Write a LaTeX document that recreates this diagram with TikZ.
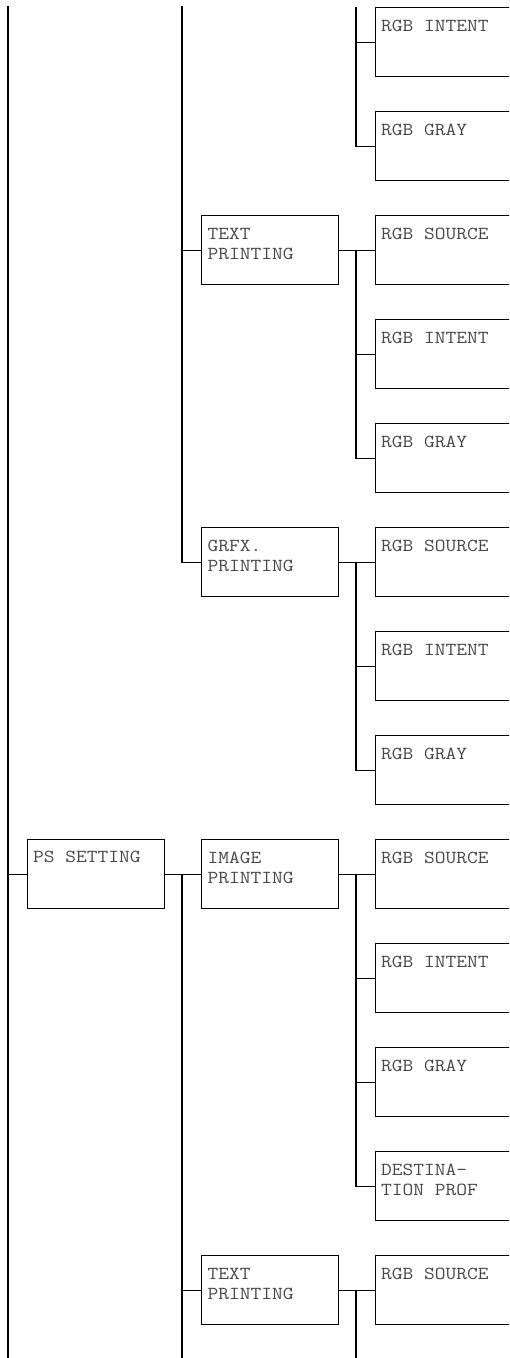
\documentclass[tikz,border=0pt]{standalone}
\usepackage{fontspec}
\newfontfamily\courfont{Latin Modern Mono}[FakeStretch=1.14]
\begin{document}
\begin{tikzpicture}[x=1pt,y=-1pt,
  ln/.style={line width=1.2pt,black},
  boxm/.style={draw,line width=1.2pt,rectangle,inner sep=0pt,anchor=north west,minimum width=137pt,minimum height=69pt},
  boxr/.style={draw,line width=1.2pt,rectangle,inner sep=0pt,anchor=north west,minimum width=160pt,minimum height=69pt},
  lbl/.style={anchor=north west,inner sep=0pt,align=left,text=black!72,font=\courfont\fontsize{18.3}{20.5}\selectfont}]
\useasboundingbox (0,0) rectangle (509,1358);
\clip (0,0) rectangle (509,1358);
\newcommand\fl{\rule{0pt}{14pt}}
% left column
\node[boxm] (ps) at (27,839) {};
\node[lbl] (psT) at ([xshift=6pt,yshift=-9.5pt]ps.north west) {\fl PS SETTING};
% middle column
\node[boxm] (tp1) at (200.5,215) {};
\node[lbl] (tp1T) at ([xshift=7pt,yshift=-10pt]tp1.north west) {\fl TEXT\\PRINTING};
\node[boxm] (gp) at (200.5,527) {};
\node[lbl] (gpT) at ([xshift=7pt,yshift=-10pt]gp.north west) {\fl GRFX.\\PRINTING};
\node[boxm] (ip) at (200.5,839) {};
\node[lbl] (ipT) at ([xshift=7pt,yshift=-10pt]ip.north west) {\fl IMAGE\\PRINTING};
\node[boxm] (tp2) at (200.5,1255) {};
\node[lbl] (tp2T) at ([xshift=7pt,yshift=-10pt]tp2.north west) {\fl TEXT\\PRINTING};
% right column
\foreach \k/\t in {0/RGB INTENT,1/RGB GRAY,2/RGB SOURCE,3/RGB INTENT,4/RGB GRAY,5/RGB SOURCE,6/RGB INTENT,7/RGB GRAY,8/RGB SOURCE,9/RGB INTENT,10/RGB GRAY,11/{DESTINA-\\TION PROF},12/RGB SOURCE}{
  \node[boxr] (r\k) at (375,{7+104*\k}) {};
  \node[lbl] (r\k T) at ([xshift=6pt,yshift=-10pt]r\k.north west) {\fl\t};
}
% free ends
\coordinate (aTop) at (8,6);
\coordinate (aBot) at (8,1358);
\coordinate (bTop) at (182,6);
\coordinate (bBot) at (182,1358);
\coordinate (cTop) at (356,7);
\coordinate (cBot) at (356,1358);
% left trunk
\draw[ln] (aTop) -- (aBot);
\draw[ln] (ps.west -| aTop) -- (ps.west);
% middle trunks
\draw[ln] (bTop) |- (gp.west);
\draw[ln] (tp1.west -| bTop) -- (tp1.west);
\draw[ln] (ps.east) -- (ip.west);
\draw[ln] (ip.west -| bTop) -- (bBot);
\draw[ln] (tp2.west -| bTop) -- (tp2.west);
% right trunks
\draw[ln] (cTop) |- (r1.west);
\draw[ln] (r0.west -| cTop) -- (r0.west);
\draw[ln] (tp1.east) -- (r2.west);
\draw[ln] (r2.west -| cTop) |- (r4.west);
\draw[ln] (r3.west -| cTop) -- (r3.west);
\draw[ln] (gp.east) -- (r5.west);
\draw[ln] (r5.west -| cTop) |- (r7.west);
\draw[ln] (r6.west -| cTop) -- (r6.west);
\draw[ln] (ip.east) -- (r8.west);
\draw[ln] (r8.west -| cTop) |- (r11.west);
\draw[ln] (r9.west -| cTop) -- (r9.west);
\draw[ln] (r10.west -| cTop) -- (r10.west);
\draw[ln] (tp2.east) -- (r12.west);
\draw[ln] (r12.west -| cTop) -- (cBot);
\end{tikzpicture}
\end{document}
